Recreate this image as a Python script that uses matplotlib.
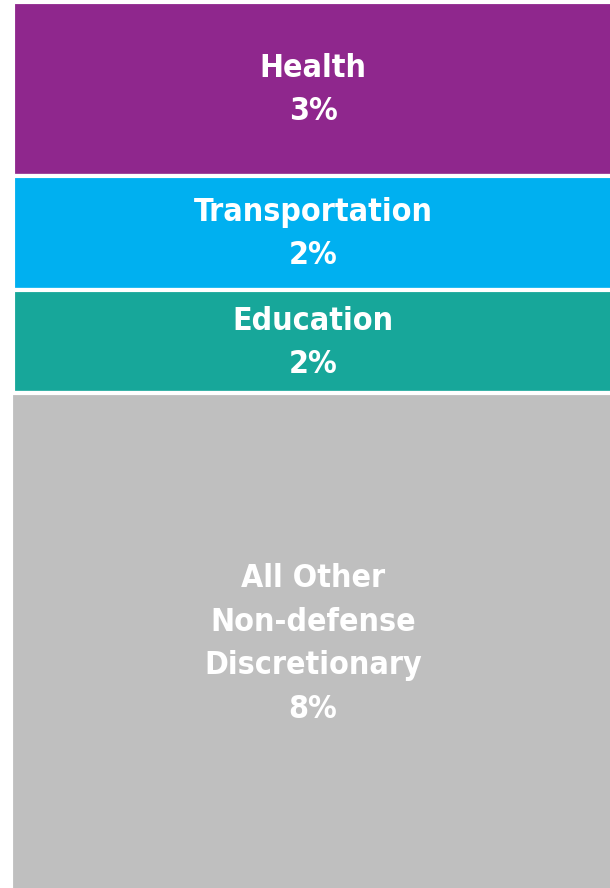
import matplotlib
matplotlib.use("Agg")
import matplotlib.pyplot as plt

# Budget share blocks, top to bottom (bottom block is cropped in the reference)
categories = ["Health", "Transportation", "Education", "All Other\nNon-defense\nDiscretionary"]
labels = ["3%", "2%", "2%", "8%"]
heights = [3.1, 2.03, 1.85, 8.87]  # visual block sizes
colors = ["#8F278D", "#00B0F0", "#17A79A", "#BFBFBF"]

plt.rcParams["font.family"] = ["DejaVu Sans"]

fig = plt.figure(figsize=(6.10, 8.88), dpi=100)
ax = fig.add_axes([0, 0, 1, 1])

bottoms = [sum(heights[:i]) for i in range(len(heights))]
lefts = [13, 13, 13, 11]
for cat, lab, h, b, c, x0 in zip(categories, labels, heights, bottoms, colors, lefts):
    ax.bar(x0, h, width=700, bottom=b, align="edge", color=c,
           edgecolor="white", linewidth=3)
    ax.text(313, b + h / 2 + 0.03, f"{cat}\n{lab}", ha="center", va="center",
            color="white", fontsize=23, fontweight="bold", fontstretch="condensed",
            linespacing=1.52)

# the bottom block runs past the lower edge of the picture
total = sum(heights)
ax.set_xlim(0, 610)
ax.set_ylim(total - 0.06, -0.027)
ax.axis("off")

fig.savefig("out.png", dpi=100, facecolor="white")
